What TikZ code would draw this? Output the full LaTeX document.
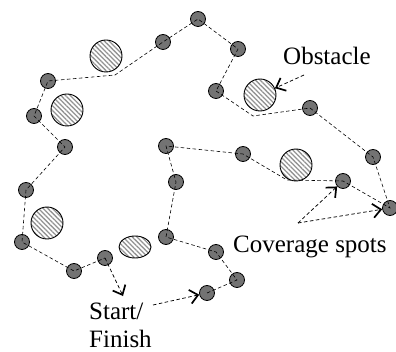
\documentclass[tikz,border=0pt]{standalone}
\usepackage{fontspec}
\setmainfont{Liberation Serif}
\usetikzlibrary{arrows.meta,patterns.meta,shapes.geometric,decorations.markings}
\definecolor{spotgray}{gray}{0.45}
\tikzset{
  spot/.style={circle,draw,line width=0.8pt,fill=spotgray,minimum size=15pt,inner sep=0pt},
  obst/.style={draw,line width=0.9pt,inner sep=0pt,pattern={Lines[angle=-45,distance=3.3pt,line width=1.3pt]},pattern color=gray!85},
  route/.style={dash pattern=on 3.5pt off 2.5pt,line width=0.6pt},
  % dashed pointer, its barb drawn solid
  hint/.style={route,line width=0.75pt,postaction={decorate},
    decoration={markings,mark=at position 1 with
      {\pgfsetdash{}{0pt}\arrow{Straight Barb[length=8pt,width=14pt,line width=1.7pt]}}}},
  lbl/.style={font=\fontsize{25}{28}\selectfont,inner sep=0pt}
}

\begin{document}
\begin{tikzpicture}[x=1pt,y=-1pt]
\useasboundingbox (0,0) rectangle (396,352);
% obstacles
\node[obst,circle,minimum size=32pt] (ob1) at (106,56) {};
\node[obst,circle,minimum size=32pt] (ob2) at (67,110) {};
\node[obst,circle,minimum size=32pt] (ob3) at (47,223) {};
\node[obst,ellipse,minimum width=32pt,minimum height=22pt] (ob4) at (135,247) {};
\node[obst,circle,minimum size=32pt] (ob5) at (260,95) {};
\node[obst,circle,minimum size=32pt] (ob6) at (296,165) {};
% coverage spots, in the order the route visits them
\node[spot] (c1) at (207,293) {};
\node[spot] (c2) at (237,280) {};
\node[spot] (c3) at (216,252) {};
\node[spot] (c4) at (166,237) {};
\node[spot] (c5) at (176,182) {};
\node[spot] (c6) at (166,146) {};
\node[spot] (c7) at (243,154) {};
\node[spot] (c8) at (343,181) {};
\node[spot] (c9) at (390,208) {};
\node[spot] (c10) at (373,157) {};
\node[spot] (c11) at (310,108) {};
\node[spot] (c12) at (216,91) {};
\node[spot] (c13) at (238,49) {};
\node[spot] (c14) at (198,19) {};
\node[spot] (c15) at (163,42) {};
\node[spot] (c16) at (48,81) {};
\node[spot] (c17) at (34,116) {};
\node[spot] (c18) at (65,147) {};
\node[spot] (c19) at (26,190) {};
\node[spot] (c20) at (22,242) {};
\node[spot] (c21) at (74,271) {};
\node[spot] (c22) at (105,258) {};
% bends round the obstacles
\coordinate (k1) at (287,180);
\coordinate (k2) at (253,116);
\coordinate (k3) at (115,75);
% the route
\draw[route] (c1.center) -- (c2.center) -- (c3.center) -- (c4.center) -- (c5.center)
  -- (c6.center) -- (c7.center) -- (k1) -- (c8.center) -- (c9.center) -- (c10.center)
  -- (c11.center) -- (k2) -- (c12.center) -- (c13.center) -- (c14.center) -- (c15.center)
  -- (k3) -- (c16.center) -- (c17.center) -- (c18.center) -- (c19.center) -- (c20.center)
  -- (c21.center) -- (c22.center);
% labels
\node[lbl,anchor=base west] (obs) at (283,65) {Obstacle};
\node[lbl,anchor=base west] (cov) at (233,253) {Coverage spots};
\node[lbl,anchor=north west,align=left] (sf) at (89,303) {Start/\\Finish};
\coordinate (obsTail) at (304,75);
\coordinate (covTail) at (298,223);
\coordinate (startTail) at (153,305);
\coordinate (finishEnd) at (123,296);
\draw[hint] (obsTail) -- (ob5);
\draw[hint] (covTail) -- (c8);
\draw[hint] (covTail) -- (c9);
\draw[hint] (startTail) -- (c1);
\draw[hint] (c22.center) -- (finishEnd);
\end{tikzpicture}
\end{document}
